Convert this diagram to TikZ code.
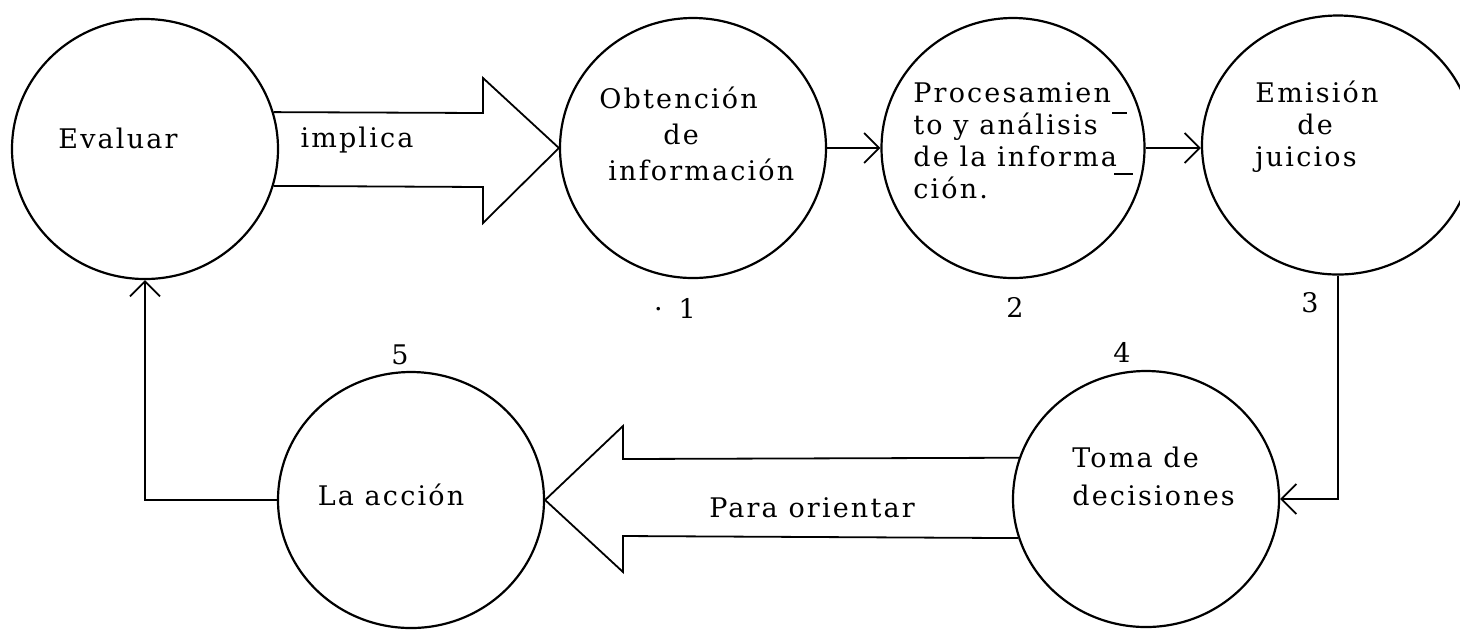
\documentclass[tikz,border=0pt]{standalone}
\usepackage{fontspec}
\setmainfont{DejaVu Serif}[LetterSpace=8]
\usetikzlibrary{shapes.geometric,arrows.meta}
\begin{document}
\begin{tikzpicture}[x=0.5pt,y=-0.5pt,
  bubble/.style={draw,ellipse,line width=1.1pt,inner sep=0pt,minimum width=133pt,minimum height=130pt},
  txt/.style={inner sep=0pt,font=\fontsize{13.5}{16}\selectfont},
  thinarrow/.style={line width=0.9pt,-{Straight Barb[length=7.5pt,width=15pt]}},
  fat/.style={line width=0.9pt,line join=miter},
  hyph/.style={line width=0.9pt}]
\useasboundingbox (0,0) rectangle (1460,629);
% circles
\node[bubble] (E0) at (145,149) {};
\node[bubble] (E1) at (693,148) {};
\node[bubble,minimum width=131.5pt] (E2) at (1013,148) {};
\node[bubble,minimum width=136pt,minimum height=129.5pt] (E3) at (1338,145) {};
\node[bubble,minimum height=128pt] (E4) at (1146,499) {};
\node[bubble,minimum height=128pt] (E5) at (411,500) {};
% texts
\node[txt] (t0) at (118,138) {Evaluar};
\node[txt] (t01) at (357,140) {implica};
\node[txt,align=left,anchor=west,font=\fontsize{13.5}{18}\selectfont] (t1) at (599,134) {Obtención\\\hspace*{32pt}de\\\hspace*{4.5pt}información};
\node[txt,align=left,anchor=west] (t2) at (913,141) {Procesamien\\to y análisis\\de la informa\\ción.};
\node[txt,align=left,anchor=west] (t3) at (1255,127) {Emisión\\\hspace*{21pt}de\\juicios};
\node[txt,align=left,anchor=west,font=\fontsize{13.5}{19}\selectfont] (t4) at (1072,476) {Toma de\\decisiones};
\node[txt] (t5) at (391,495) {La acción};
\node[txt] (t45) at (812,508) {Para orientar};
% numbers
\node[txt] (n1) at (675,308) {·\hspace{8pt}1};
\node[txt] (n2) at (1015,307) {2};
\node[txt] (n3) at (1310,303) {3};
\node[txt] (n4) at (1122,352) {4};
\node[txt] (n5) at (400,355) {5};
% hyphens of the typed text
\draw[hyph] (1112,113) -- (1127,113);
\draw[hyph] (1114,174) -- (1133,174);
% fat arrows
\draw[fat] (E0.16) -- (483,113) -- (483,78) -- (E1.west) -- (483,223) -- (483,187) -- (E0.-16);
\draw[fat] (E4.162) -- (623,459) -- (623,426) -- (E5.east) -- (623,572) -- (623,536) -- (E4.197);
% thin arrows
\draw[thinarrow] (E1.east) -- (E2.west);
\draw[thinarrow] (E2.east) -- (E2.east -| E3.west);
\draw[thinarrow] (E3.south) |- (E4.east);
\draw[thinarrow] (E5.west) -| (E0.south);
\end{tikzpicture}
\end{document}
